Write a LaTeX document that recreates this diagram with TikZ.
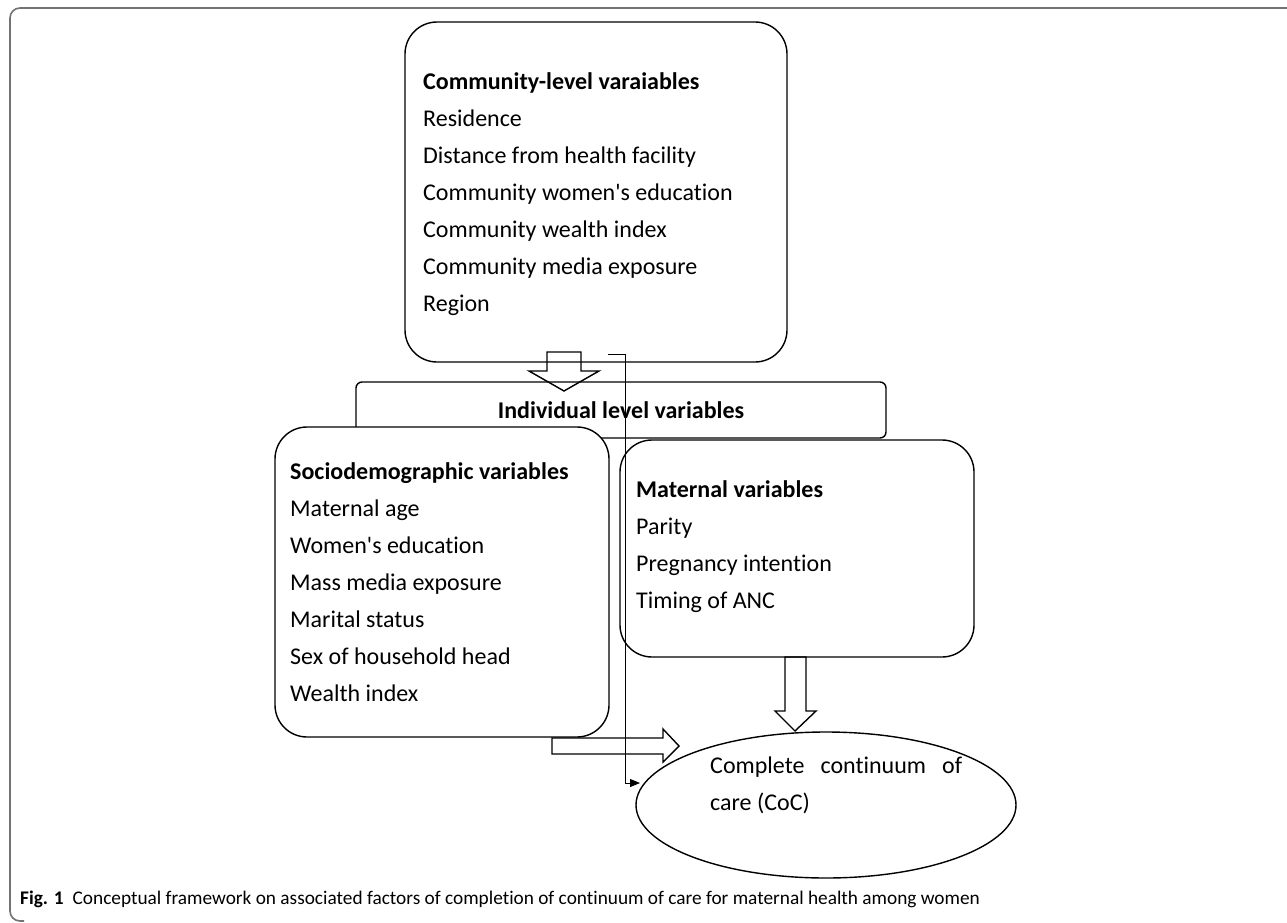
\documentclass[tikz,border=0pt]{standalone}
\usepackage{fontspec}
\setmainfont{Carlito}[Ligatures=NoCommon]
\usetikzlibrary{positioning}
\usetikzlibrary{shapes.geometric}
\usetikzlibrary{arrows.meta}
\newcommand \varfont {\fontsize{24}{37}\selectfont}
\tikzset{
	varbox/.style={
		draw,
		line width=1.4pt,
		rounded corners=32pt,
		inner sep=0pt,
		outer sep=0pt,
		anchor=north west
	},
	headbox/.style={varbox, rounded corners=6pt},
	vartext/.style={inner sep=0pt, align=left, anchor=north west, font=\varfont},
	blockarrow/.style={draw, line width=1.4pt, line join=miter},
	link/.style={draw, line width=0.8pt, -{Triangle[length=10pt,width=8pt]}},
	frame/.style={draw=black!55, line width=1.6pt, rounded corners=10pt}
}

\begin{document}
\begin{tikzpicture} [x=1pt, y=-1pt]
	\useasboundingbox (0,0) rectangle (1287,923);
	\draw[frame] (1290,8) -- (10,8) -- (10,921) -- (24,921);

	% community level
	\node[varbox, minimum width=382pt, minimum height=340pt] (comm) at (405,22) {};
	\node[vartext, below right=50pt and 18pt of comm.north west] (commtext)
		{\textbf{Community-level varaiables}\\Residence\\Distance from health facility\\
		Community women\textquotesingle s education\\Community wealth index\\Community media exposure\\Region};

	\draw[blockarrow] (547,352) -- (581,352) -- (581,371) -- (599,371) -- (564,391)
		-- (529,371) -- (547,371) -- cycle;

	% individual level
	\node[headbox, minimum width=530pt, minimum height=56pt] (indiv) at (356,382) {};
	\node[font=\varfont\bfseries, inner sep=0pt] (indivtext) at (indiv.center) {Individual level variables};

	\node[varbox, fill=white, minimum width=334pt, minimum height=310pt] (socio) at (275,427) {};
	\node[vartext, below right=35pt and 15pt of socio.north west] (sociotext)
		{\textbf{Sociodemographic variables}\\Maternal age\\Women\textquotesingle s education\\Mass media exposure\\
		Marital status\\Sex of household head\\Wealth index};

	\node[varbox, fill=white, minimum width=354pt, minimum height=217pt] (mat) at (620,440) {};
	\node[vartext, below right=40pt and 16pt of mat.north west] (mattext)
		{\textbf{Maternal variables}\\Parity\\Pregnancy intention\\Timing of ANC};

	% outcome
	\node[draw, ellipse, line width=1.4pt, minimum width=380pt, minimum height=146pt] (coc) at (826,805) {};
	\node[vartext, align=flush left, text width=252pt] (coctext) at (710,757)
		{Complete\hspace{\fill}continuum\hspace{\fill}of\\care (CoC)};

	\draw[blockarrow] (552,738) -- (663,738) -- (663,729) -- (679,746) -- (663,762)
		-- (663,754) -- (552,754) -- cycle;
	\draw[blockarrow] (785,657) -- (806,657) -- (806,711) -- (816,711) -- (795,731)
		-- (775,711) -- (785,711) -- cycle;

	\coordinate (linkstart) at (608,354);
	\coordinate (linkbend) at (625,783);
	\coordinate (linkend) at (640,783);
	\draw[link] (linkstart) -| (linkbend) -- (linkend);

	\node[anchor=base west, inner sep=0pt, font=\fontsize{19.3}{21}\selectfont] (caption) at (20,904)
		{\textbf{Fig. 1}\hspace{9pt}Conceptual framework on associated factors of completion of continuum of care for maternal health among women};
\end{tikzpicture}
\end{document}
